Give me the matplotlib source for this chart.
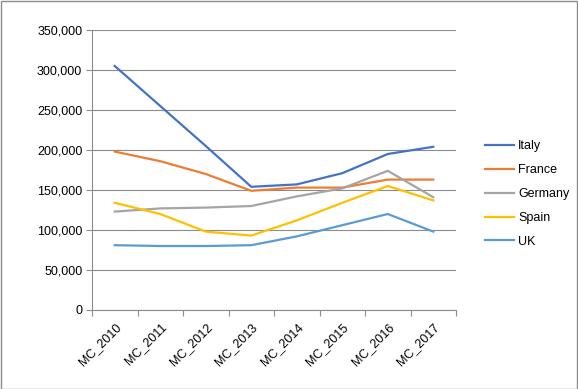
import numpy as np
import matplotlib
matplotlib.use('Agg')
import matplotlib.pyplot as plt
from matplotlib.patches import Rectangle
from matplotlib.ticker import FuncFormatter

plt.rcParams['font.family'] = ['Liberation Sans', 'DejaVu Sans']

years = ['MC_2010', 'MC_2011', 'MC_2012', 'MC_2013', 'MC_2014', 'MC_2015', 'MC_2016', 'MC_2017']
italy = [305000, 255000, 205000, 154000, 157000, 171000, 195000, 204000]
france = [198000, 186000, 170000, 149000, 153000, 153000, 163000, 163000]
germany = [123000, 127000, 128000, 130000, 142000, 152000, 174000, 141000]
spain = [134000, 120000, 98000, 93000, 112000, 134000, 155000, 137000]
uk = [81000, 80000, 80000, 81000, 92000, 106000, 120000, 98000]

series = [('Italy', italy, '#4472C4'),
          ('France', france, '#ED7D31'),
          ('Germany', germany, '#A5A5A5'),
          ('Spain', spain, '#FFC000'),
          ('UK', uk, '#5B9BD5')]

fig = plt.figure(figsize=(5.78, 3.89), dpi=100)
ax = fig.add_axes([92/578, 79/389, 364/578, 280/389])

x = np.arange(len(years))
for name, vals, col in series:
    ax.plot(x, vals, color=col, lw=1.6, label=name, solid_joinstyle='round')

ax.set_xlim(-0.5, len(years) - 0.5)
ax.set_ylim(0, 350000)
ax.set_yticks(np.arange(0, 350001, 50000))
ax.yaxis.set_major_formatter(FuncFormatter(lambda v, p: f'{int(v):,}'))
ax.grid(axis='y', color='#8C8C8C', lw=0.8)
ax.set_axisbelow(True)

ax.set_xticks(np.arange(-0.5, len(years), 1.0))
ax.set_xticklabels([])
ax.set_xticks(x, minor=True)
ax.set_xticklabels(years, minor=True, rotation=45, ha='right', rotation_mode='anchor')
ax.tick_params(axis='x', which='minor', length=0, pad=8, labelsize=9)
ax.tick_params(axis='x', which='major', length=4, color='#8C8C8C')
ax.tick_params(axis='y', length=4, color='#8C8C8C', labelsize=9, pad=3)

for s in ['top', 'right']:
    ax.spines[s].set_visible(False)
for s in ['left', 'bottom']:
    ax.spines[s].set_color('#8C8C8C')
    ax.spines[s].set_linewidth(0.8)

ax.legend(loc='center left', bbox_to_anchor=(1.05, 0.414), frameon=False,
          fontsize=9, handlelength=2.3, handletextpad=0.3, labelspacing=0.95)

fig.patches.append(Rectangle((0.001, 0.001), 0.997, 0.996, transform=fig.transFigure,
                             fill=False, edgecolor='#8C8C8C', lw=1))

fig.savefig('out.png', dpi=100)
